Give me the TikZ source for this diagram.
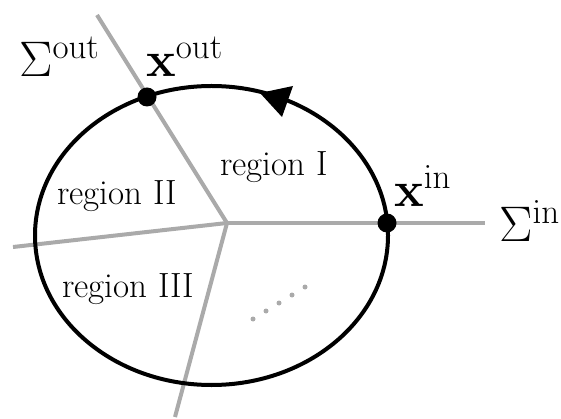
\RequirePackage{fix-cm}
\documentclass[tikz,border=0pt]{standalone}
\definecolor{sect}{RGB}{170,170,170}
\tikzset{
  section/.style={draw=sect, line width=4pt},
  orbit/.style={draw=black, line width=4pt},
  fixpt/.style={circle, fill=black, minimum size=19pt, inner sep=0pt},
  tinydot/.style={circle, fill=sect, minimum size=5pt, inner sep=0pt},
  reglabel/.style={anchor=base west, inner sep=0pt, font=\fontsize{35}{42}\selectfont},
  mathlabel/.style={anchor=base west, inner sep=0pt, font=\fontsize{50}{60}\selectfont},
}
\begin{document}
\begin{tikzpicture}[x=1pt,y=-1pt]
\useasboundingbox (0,0) rectangle (561,419);
% section lines
\coordinate (c) at (227,223);
\coordinate (ul) at (97,15);
\coordinate (le) at (13,247);
\coordinate (ri) at (485,223);
\coordinate (bo) at (175,417);
\draw[section] (c) -- (ul);
\draw[section] (c) -- (le);
\draw[section] (c) -- (ri);
\draw[section] (c) -- (bo);
% orbit
\coordinate (oc) at (211.5,235.5);
\draw[orbit] (oc) ellipse [x radius=176.5, y radius=149.5];
% arrowhead
\coordinate (tip) at (260,93);
\coordinate (b1) at (293,86);
\coordinate (b2) at (282,117);
\fill[black] (tip) -- (b1) -- (b2) -- cycle;
% fixed points
\node[fixpt] (xout) at (147,97) {};
\node[fixpt] (xin) at (387,223) {};
% dots
\foreach \i in {0,...,4} {
  \node[tinydot] (d\i) at ({253+13*\i},{319-8*\i}) {};
}
% labels
\node[mathlabel] (Sout) at (19,77) {$\Sigma^{\mathrm{out}}$};
\node[mathlabel] (Xout) at (146,77) {$\mathbf{x}^{\mathrm{out}}$};
\node[mathlabel] (Xin) at (394,207) {$\mathbf{x}^{\mathrm{in}}$};
\node[mathlabel] (Sin) at (499,242) {$\Sigma^{\mathrm{in}}$};
\node[reglabel] (r1) at (220,176) {region I};
\node[reglabel] (r2) at (57,205) {region II};
\node[reglabel] (r3) at (62,297) {region III};
\end{tikzpicture}
\end{document}
